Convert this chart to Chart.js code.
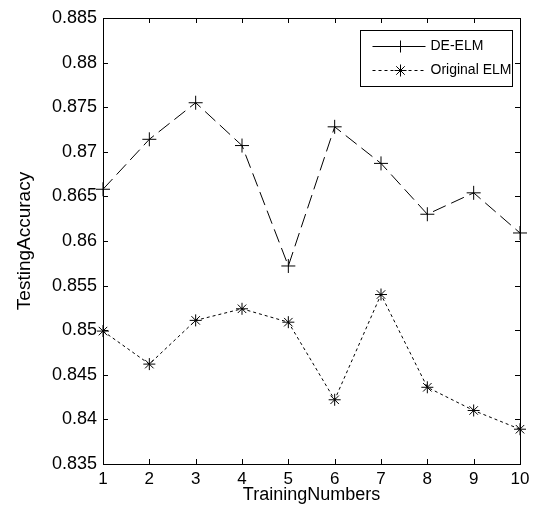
<!DOCTYPE html>
<html>
<head>
<meta charset="utf-8">
<script src="https://cdn.jsdelivr.net/npm/chart.js@4/dist/chart.umd.min.js"></script>
<style>
  html, body { margin: 0; padding: 0; background: #fff; }
  #wrap { position: relative; width: 549px; height: 507px; }
</style>
</head>
<body>
<div id="wrap"><canvas id="chart"></canvas></div>
<script>
const trainingNumbers = [1, 2, 3, 4, 5, 6, 7, 8, 9, 10];
const deElm = [0.8658, 0.8714, 0.8755, 0.8707, 0.8572, 0.8728, 0.8687, 0.8630, 0.8654, 0.8609];
const originalElm = [0.8499, 0.8462, 0.8511, 0.8524, 0.8509, 0.8422, 0.8540, 0.8436, 0.8410, 0.8389];
const yTicks = [0.835, 0.84, 0.845, 0.85, 0.855, 0.86, 0.865, 0.87, 0.875, 0.88, 0.885];

const FONT = 'Liberation Sans, Arial, sans-serif';

// MATLAB style box with inward ticks + legend box
const matlabFrame = {
  id: 'matlabFrame',
  afterDraw(chart) {
    const { ctx, chartArea: a, scales } = chart;
    ctx.save();
    ctx.strokeStyle = '#000';
    ctx.lineWidth = 1;
    ctx.strokeRect(a.left + 0.5, a.top + 0.5, a.right - a.left, a.bottom - a.top);
    const len = 5;
    ctx.beginPath();
    trainingNumbers.forEach(v => {
      const x = Math.round(scales.x.getPixelForValue(v)) + 0.5;
      ctx.moveTo(x, a.bottom); ctx.lineTo(x, a.bottom - len);
      ctx.moveTo(x, a.top); ctx.lineTo(x, a.top + len);
    });
    yTicks.forEach(v => {
      const y = Math.round(scales.y.getPixelForValue(v)) + 0.5;
      ctx.moveTo(a.left, y); ctx.lineTo(a.left + len, y);
      ctx.moveTo(a.right, y); ctx.lineTo(a.right - len, y);
    });
    ctx.stroke();

    // legend
    const bx = 360.5, by = 30.5, bw = 152, bh = 56;
    ctx.fillStyle = '#fff';
    ctx.fillRect(bx, by, bw, bh);
    ctx.strokeRect(bx, by, bw, bh);
    ctx.font = '14px ' + FONT;
    ctx.fillStyle = '#000';
    ctx.textBaseline = 'middle';
    const rows = [
      { label: 'DE-ELM', dash: [], style: 'cross', y: by + 16 },
      { label: 'Original ELM', dash: [3, 3], style: 'star', y: by + 40 }
    ];
    rows.forEach(r => {
      ctx.setLineDash(r.dash);
      ctx.beginPath();
      ctx.moveTo(bx + 12, r.y); ctx.lineTo(bx + 65, r.y);
      ctx.stroke();
      ctx.setLineDash([]);
      Chart.helpers.drawPoint(ctx, { pointStyle: r.style, radius: 6, borderWidth: 1 }, bx + 40, r.y);
      ctx.fillText(r.label, bx + 70, r.y);
    });
    ctx.restore();
  }
};

new Chart(document.getElementById('chart'), {
  type: 'line',
  data: {
    datasets: [
      {
        label: 'DE-ELM',
        data: trainingNumbers.map((x, i) => ({ x, y: deElm[i] })),
        borderColor: '#000',
        backgroundColor: '#000',
        borderWidth: 1,
        borderDash: [14, 6],
        pointStyle: 'cross',
        pointRadius: 7,
        pointBorderWidth: 1,
        pointBorderColor: '#000',
        tension: 0
      },
      {
        label: 'Original ELM',
        data: trainingNumbers.map((x, i) => ({ x, y: originalElm[i] })),
        borderColor: '#000',
        backgroundColor: '#000',
        borderWidth: 1,
        borderDash: [3, 3],
        pointStyle: 'star',
        pointRadius: 6,
        pointBorderWidth: 1,
        pointBorderColor: '#000',
        tension: 0
      }
    ]
  },
  options: {
    responsive: true,
    maintainAspectRatio: false,
    animation: false,
    clip: false,
    layout: { padding: { top: 18, right: 29, left: 0, bottom: 0 } },
    plugins: {
      legend: { display: false },
      tooltip: { enabled: false }
    },
    scales: {
      x: {
        type: 'linear',
        min: 1,
        max: 10,
        afterBuildTicks: s => { s.ticks = trainingNumbers.map(v => ({ value: v })); },
        afterFit: s => { s.height = 43; },
        grid: { display: false, drawTicks: false },
        border: { display: false },
        ticks: { color: '#000', font: { family: FONT, size: 17 }, padding: 5, maxRotation: 0 },
        title: { display: true, text: 'TrainingNumbers', color: '#000', font: { family: FONT, size: 18 }, padding: { top: 0, bottom: 1 } }
      },
      y: {
        min: 0.835,
        max: 0.885,
        afterBuildTicks: s => { s.ticks = yTicks.map(v => ({ value: v })); },
        afterFit: s => { s.width = 103; },
        grid: { display: false, drawTicks: false },
        border: { display: false },
        ticks: {
          color: '#000',
          font: { family: FONT, size: 18 },
          padding: 6,
          callback: v => String(+v.toFixed(3))
        },
        title: { display: true, text: 'TestingAccuracy', color: '#000', font: { family: FONT, size: 19 }, padding: { top: 13, bottom: 0 } }
      }
    }
  },
  plugins: [matlabFrame]
});
</script>
</body>
</html>
